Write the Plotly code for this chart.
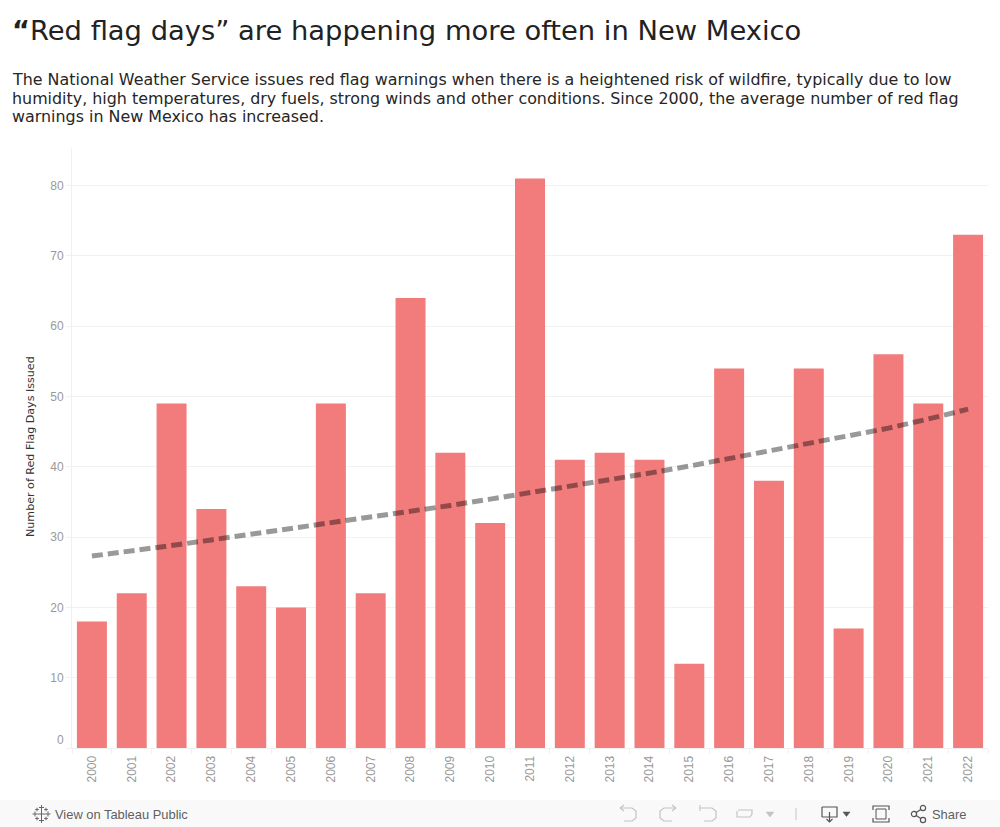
import plotly.graph_objects as go

years = [str(y) for y in range(2000, 2023)]
red_flag_days = [18, 22, 49, 34, 23, 20, 49, 22, 64, 42, 32, 81, 41, 42, 41, 12, 54, 38, 54, 17, 56, 49, 73]
trend_values = [27.3, 28.0, 28.8, 29.6, 30.4, 31.2, 32.0, 32.8, 33.7, 34.5, 35.4, 36.3, 37.2, 38.1, 39.1, 40.1, 41.2, 42.2, 43.3, 44.4, 45.5, 46.8, 48.2]
y_ticks = [0, 10, 20, 30, 40, 50, 60, 70, 80]

TITLE_TAIL = "Red flag days” are happening more often in New Mexico"
SUB_LINES = [
    "The National Weather Service issues red flag warnings when there is a heightened risk of wildfire, typically due to low",
    "humidity, high temperatures, dry fuels, strong winds and other conditions. Since 2000, the average number of red flag",
    "warnings in New Mexico has increased.",
]

W, H = 1000, 827
L, R, T, B = 72, 12, 148, 79
PW, PH = W - L - R, H - T - B
px = lambda x: (x - L) / PW
py = lambda y: 1 - (y - T) / PH

fig = go.Figure()
fig.add_bar(x=years, y=red_flag_days, marker=dict(color="#f27b7b", line_width=0), width=0.753, hoverinfo="x+y")
fig.add_scatter(x=years, y=trend_values, mode="lines", hoverinfo="skip",
                line=dict(color="rgba(0,0,0,0.4)", width=5, dash="11px,5px"))

anns = []
def text(x, y, s, size, color, family="DejaVu Sans", xanchor="left", **kw):
    anns.append(dict(xref="paper", yref="paper", x=px(x), y=py(y), text=s, showarrow=False, xanchor=xanchor,
                     yanchor="middle", font=dict(size=size, color=color, family=family), **kw))

text(10, 31, "<b>“</b>" + TITLE_TAIL, 27.35, "#222222")
for i, (line, yy) in enumerate(zip(SUB_LINES, [79, 98, 117])):
    text(10, yy, line, 15.9, "#262626")
text(30, 447, "Number of Red Flag Days Issued", 11.1, "#333333", xanchor="center", textangle=-90)
text(66, 740, "0", 12, "#999999", family="Liberation Sans", xanchor="right")
text(53, 814, "View on Tableau Public", 12.9, "#5f5f5f", family="Liberation Sans")
text(930, 814, "Share", 12.9, "#5f5f5f", family="Liberation Sans")

shapes = [dict(type="rect", xref="paper", yref="paper", x0=px(0), x1=px(W), y0=py(800), y1=py(H),
               fillcolor="#f9f9f9", line_width=0, layer="below")]
def seg(pts, color, width=1.2, fill=None):
    d = "M" + " L".join(f"{px(a):.5f},{py(b):.5f}" for a, b in pts)
    if fill:
        d += " Z"
    shapes.append(dict(type="path", xref="paper", yref="paper", path=d,
                       line=dict(color=color, width=width), fillcolor=fill))

# Tableau logo
c = "#666666"
for cx, cy, r in [(41.5, 814, 4), (41.5, 807.5, 2.5), (41.5, 820.5, 2.5), (35, 814, 2.5), (48, 814, 2.5),
                  (37, 809.5, 1.8), (46, 809.5, 1.8), (37, 818.5, 1.8), (46, 818.5, 1.8)]:
    seg([(cx - r, cy), (cx + r, cy)], c, 1)
    seg([(cx, cy - r), (cx, cy + r)], c, 1)
# undo / redo / revert / refresh (inactive)
g = "#c4c4c4"
seg([(620, 808), (632, 808), (636, 811), (636, 818), (632, 821), (624, 821)], g)
seg([(620, 808), (624, 805)], g); seg([(620, 808), (624, 811)], g)
seg([(676, 808), (664, 808), (660, 811), (660, 818), (664, 821), (672, 821)], g)
seg([(676, 808), (672, 805)], g); seg([(676, 808), (672, 811)], g)
seg([(700, 808), (712, 808), (716, 811), (716, 818), (712, 821), (704, 821)], g)
seg([(700, 805), (700, 811)], g)
seg([(737, 811), (737, 817), (750, 817), (752, 814), (752, 810), (738, 810)], g)
seg([(766, 812), (774, 812), (770, 817)], "#c4c4c4", 0.5, "#c4c4c4")
seg([(796, 808), (796, 820)], "#c4c4c4", 1)
# download
d = "#555555"
seg([(822, 807), (837, 807), (837, 817), (822, 817)], d, 1.2, None)
seg([(822, 807), (822, 817)], d)
seg([(829.5, 812), (829.5, 822)], d)
seg([(826.5, 819), (829.5, 822), (832.5, 819)], d)
seg([(843, 812), (850, 812), (846.5, 816.5)], d, 0.5, d)
# fullscreen
seg([(873, 810), (873, 806), (889, 806), (889, 810)], d)
seg([(873, 818), (873, 822), (889, 822), (889, 818)], d)
seg([(876, 809), (886, 809), (886, 819), (876, 819)], d, 1, "rgba(0,0,0,0)")
# share
seg([(914, 814), (923, 808)], d); seg([(914, 814), (923, 820)], d)
for cx, cy in [(914, 814), (923, 808), (923, 820)]:
    shapes.append(dict(type="circle", xref="paper", yref="paper", x0=px(cx - 2.6), x1=px(cx + 2.6),
                       y0=py(cy + 2.6), y1=py(cy - 2.6), line=dict(color=d, width=1.2), fillcolor="#f9f9f9"))

fig.update_layout(
    width=W, height=H, margin=dict(l=L, r=R, t=T, b=B, pad=0),
    paper_bgcolor="white", plot_bgcolor="white", showlegend=False, bargap=0.247,
    annotations=anns, shapes=shapes,
    xaxis=dict(type="category", tickmode="array", tickvals=years, ticktext=years, tickangle=-90, tickson="boundaries",
               ticks="outside", ticklen=5, tickcolor="#f0f0f0", showgrid=False, zeroline=False,
               showline=True, linecolor="#f0f0f0", range=[-0.5, 22.5], ticklabelstandoff=2,
               tickfont=dict(family="Liberation Sans", size=12, color="#999999"), fixedrange=True),
    yaxis=dict(range=[0, 85.35], tickmode="array", tickvals=y_ticks,
               ticktext=["" if v == 0 else str(v) for v in y_ticks],
               ticks="outside", ticklen=5, tickcolor="#f0f0f0", showgrid=True, gridcolor="#f2f2f2", gridwidth=1,
               zeroline=False, showline=True, linecolor="#f0f0f0",
               tickfont=dict(family="Liberation Sans", size=12, color="#999999"), fixedrange=True),
)
fig.write_html("out.html", config=dict(displayModeBar=False),
               post_script="document.body.style.margin='0';document.body.style.overflow='hidden';")
